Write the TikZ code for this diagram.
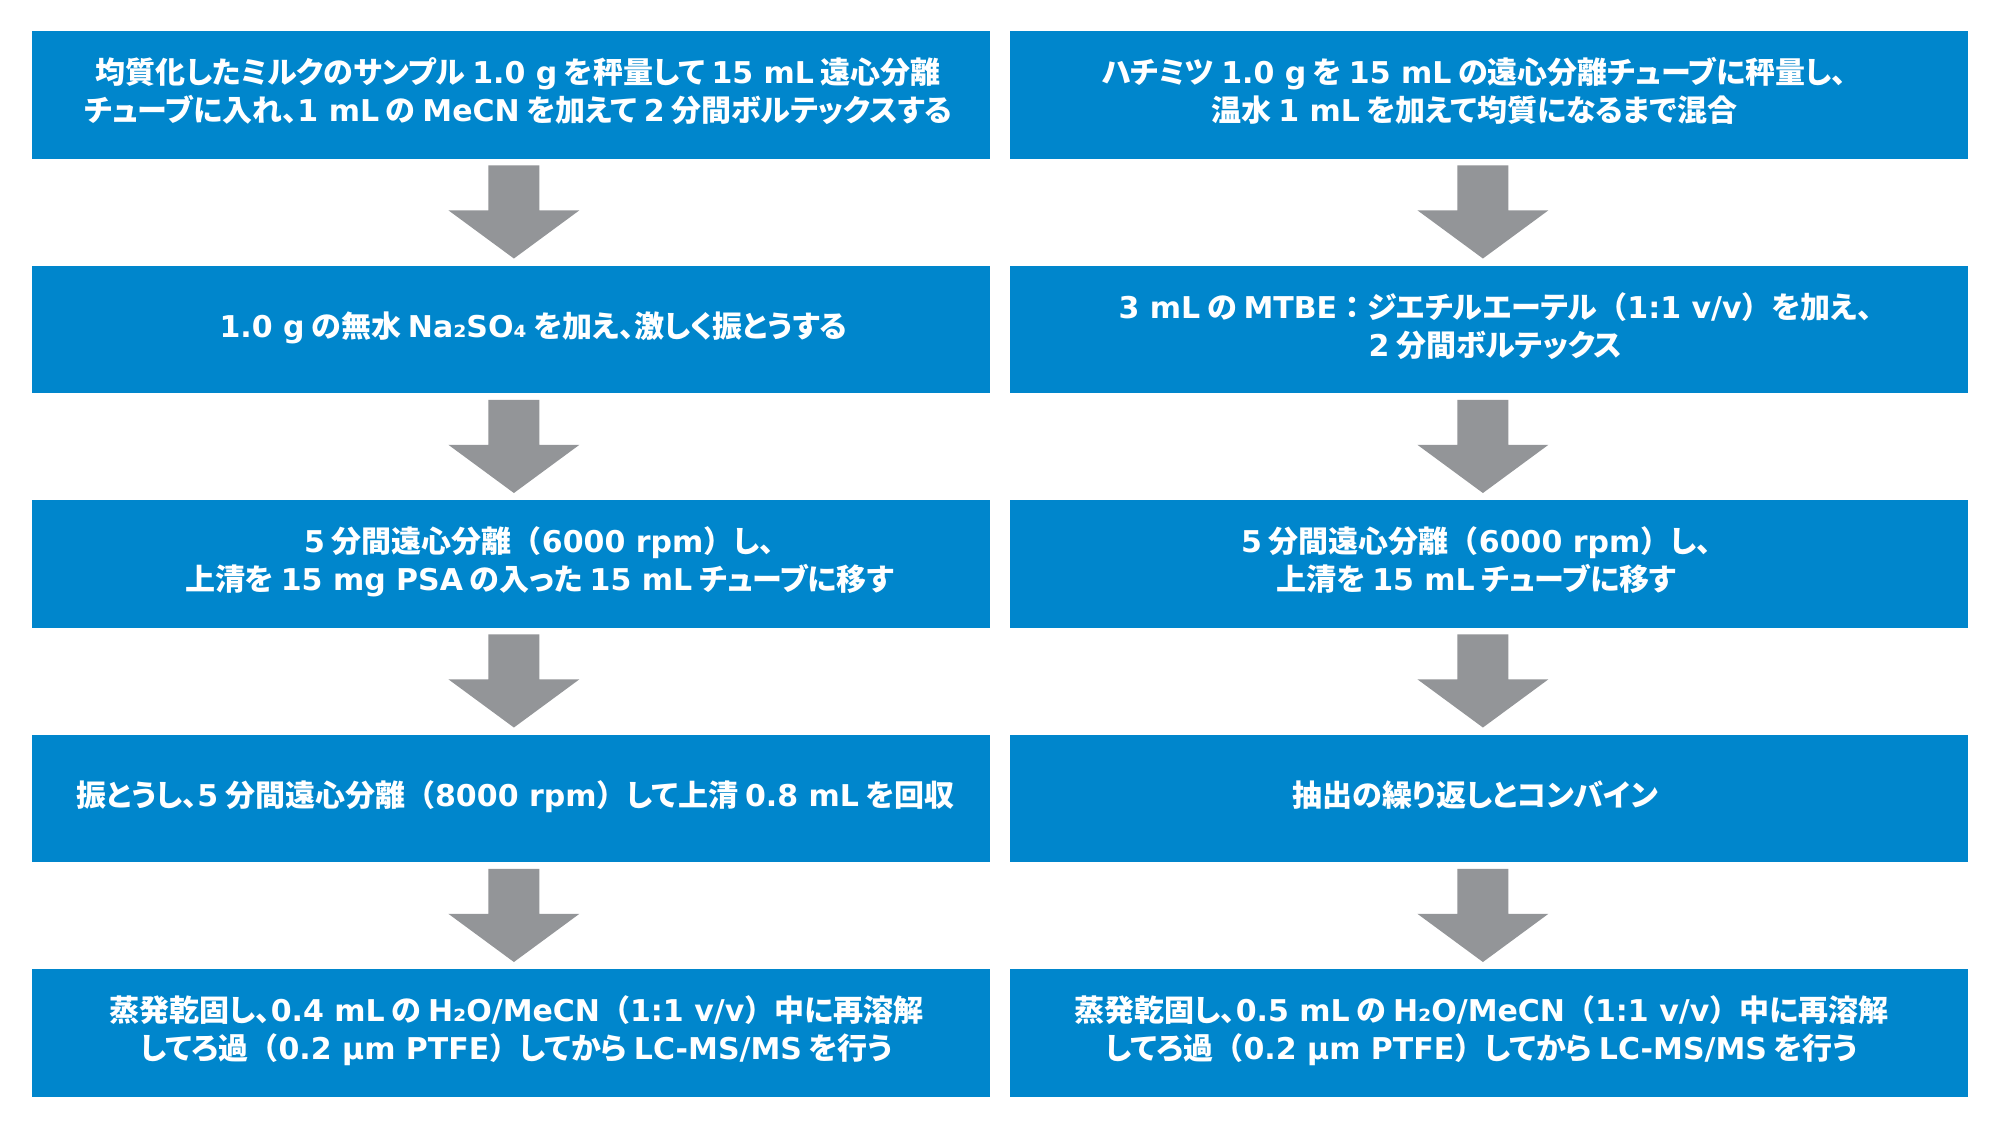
\documentclass[tikz,border=0pt]{standalone}
\usepackage{fontspec}
\setmainfont{Noto Sans CJK JP}[RawFeature=+palt]
\newfontfamily\jpfull{Noto Sans CJK JP}
\newfontfamily\latfont{DejaVu Sans}
\usetikzlibrary{calc}
\definecolor{boxblue}{RGB}{0,134,204}
\definecolor{arrowgray}{RGB}{147,149,152}
\newcommand\la[1]{{\latfont #1}}
\newcommand\lp{{\jpfull （}}
\newcommand\rp{{\jpfull ）}}
\newcommand\cln{{\jpfull ：}}
% #1 = horizontal shift of the text in px, #2 = text
\newcommand\tx[2]{\kern#1\dimexpr 0.5pt\relax\raisebox{2pt}{\begin{tabular}{@{}c@{}}#2\end{tabular}}\kern-#1\dimexpr 0.5pt\relax}
\newcommand\flowarrow[3]{%
  \fill[arrowgray] ($(#1.south)+(#3-25.5,6)$) -- ($(#1.south)+(#3+25.5,6)$)
    -- ($(#1.south)+(#3+25.5,51)$) -- ($(#1.south)+(#3+65.5,51)$)
    -- ($(#2.north)+(#3,-7)$)
    -- ($(#1.south)+(#3-65.5,51)$) -- ($(#1.south)+(#3-25.5,51)$) -- cycle;}
\begin{document}
\begin{tikzpicture}[x=0.5pt,y=-0.5pt,
  stepbox/.style={fill=boxblue, text=white, minimum width=479pt, minimum height=63.75pt,
    inner sep=0pt, font=\bfseries\fontsize{15}{19}\selectfont, anchor=north west}]
\useasboundingbox[fill=white] (0,0) rectangle (2000,1125);
% left column
\node[stepbox] (L1) at (32,31) {\tx{7}{均質化したミルクのサンプル \la{1.0 g} を秤量して \la{15 mL} 遠心分離\\チューブに入れ、\la{1 mL} の \la{MeCN} を加えて \la{2} 分間ボルテックスする}};
\node[stepbox] (L2) at (32,265.5) {\tx{22}{\la{1.0 g} の無水 \la{Na₂SO₄} を加え、激しく振とうする}};
\node[stepbox] (L3) at (32,500) {\tx{28}{\la{5} 分間遠心分離\lp\la{6000 rpm}\rp し、\\上清を \la{15 mg PSA} の入った \la{15 mL} チューブに移す}};
\node[stepbox] (L4) at (32,734.5) {\tx{4}{振とうし、\la{5} 分間遠心分離\lp\la{8000 rpm}\rp して上清 \la{0.8 mL} を回収}};
\node[stepbox] (L5) at (32,969) {\tx{5}{蒸発乾固し、\la{0.4 mL} の \la{H₂O/MeCN}\lp\la{1:1 v/v}\rp 中に再溶解\\してろ過\lp\la{0.2 µm PTFE}\rp してから \la{LC-MS/MS} を行う}};
% right column
\node[stepbox] (R1) at (1010,31) {\tx{-15}{ハチミツ \la{1.0 g} を \la{15 mL} の遠心分離チューブに秤量し、\\温水 \la{1 mL} を加えて均質になるまで混合}};
\node[stepbox] (R2) at (1010,265.5) {\tx{6}{\la{3 mL} の \la{MTBE}\cln ジエチルエーテル\lp\la{1:1 v/v}\rp を加え、\\\la{2} 分間ボルテックス}};
\node[stepbox] (R3) at (1010,500) {\tx{-13}{\la{5} 分間遠心分離\lp\la{6000 rpm}\rp し、\\上清を \la{15 mL} チューブに移す}};
\node[stepbox] (R4) at (1010,734.5) {\tx{-14}{抽出の繰り返しとコンバイン}};
\node[stepbox] (R5) at (1010,969) {\tx{-8}{蒸発乾固し、\la{0.5 mL} の \la{H₂O/MeCN}\lp\la{1:1 v/v}\rp 中に再溶解\\してろ過\lp\la{0.2 µm PTFE}\rp してから \la{LC-MS/MS} を行う}};
% arrows
\flowarrow{L1}{L2}{2.5}
\flowarrow{L2}{L3}{2.5}
\flowarrow{L3}{L4}{2.5}
\flowarrow{L4}{L5}{2.5}
\flowarrow{R1}{R2}{-6.5}
\flowarrow{R2}{R3}{-6.5}
\flowarrow{R3}{R4}{-6.5}
\flowarrow{R4}{R5}{-6.5}
\end{tikzpicture}
\end{document}
